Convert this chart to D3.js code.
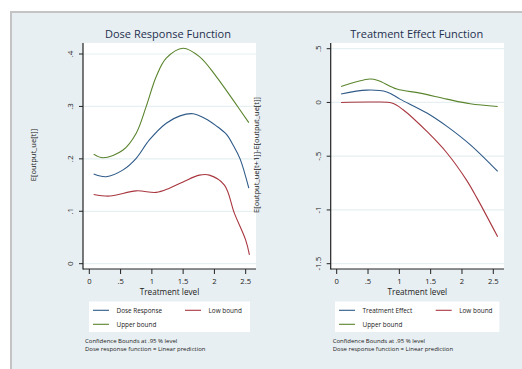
<!DOCTYPE html>
<html>
<head>
<meta charset="utf-8">
<script src="https://cdn.jsdelivr.net/npm/d3@7"></script>
<style>
body { margin: 0; background: #fff; }
text { font-family: "Open Sans", "DejaVu Sans", sans-serif; }
</style>
</head>
<body>
<script>
var width = 522, height = 369;

// treatment levels (x) for each panel
var doseX   = [0.07, 0.27, 0.54, 0.75, 0.96, 1.23, 1.45, 1.66, 1.85, 2.03, 2.19, 2.30, 2.41, 2.55];
var doseResp = [0.171, 0.166, 0.179, 0.201, 0.236, 0.268, 0.282, 0.286, 0.277, 0.263, 0.247, 0.226, 0.200, 0.144];
var doseUpX = [0.07, 0.22, 0.54, 0.75, 0.91, 1.07, 1.23, 1.50, 1.76, 2.03, 2.30, 2.55];
var doseUp  = [0.209, 0.202, 0.217, 0.249, 0.300, 0.357, 0.392, 0.411, 0.395, 0.357, 0.312, 0.269];
var doseLoX = [0.07, 0.33, 0.75, 1.07, 1.28, 1.50, 1.76, 1.92, 2.16, 2.32, 2.50, 2.56];
var doseLo  = [0.132, 0.129, 0.139, 0.136, 0.144, 0.156, 0.169, 0.169, 0.150, 0.096, 0.045, 0.017];

var effX   = [0.07, 0.48, 0.80, 1.01, 1.44, 1.76, 2.13, 2.57];
var effect = [0.078, 0.115, 0.098, 0.031, -0.099, -0.223, -0.393, -0.642];
var effUpX = [0.07, 0.53, 0.66, 0.96, 1.33, 1.76, 2.13, 2.57];
var effUp  = [0.149, 0.218, 0.205, 0.125, 0.087, 0.031, -0.012, -0.037];
var effLoX = [0.07, 0.59, 0.88, 1.06, 1.44, 1.76, 2.07, 2.24, 2.57];
var effLo  = [0.000, 0.004, -0.006, -0.068, -0.27, -0.47, -0.72, -0.89, -1.25];

var xTicks = [0, 0.5, 1, 1.5, 2, 2.5];
var xTickLabels = ["0", ".5", "1", "1.5", "2", "2.5"];
var doseYTicks = [0, 0.1, 0.2, 0.3, 0.4];
var doseYLabels = ["0", ".1", ".2", ".3", ".4"];
var effYTicks = [-1.5, -1, -0.5, 0, 0.5];
var effYLabels = ["-1.5", "-1", "-.5", "0", ".5"];

var colBlue = "#2f5a88", colRed = "#a8363f", colGreen = "#5a842c";

var svg = d3.select("body").append("svg")
  .attr("width", width)
  .attr("height", height);

// graph region
svg.append("rect").attr("x", 11).attr("y", 12).attr("width", width).attr("height", height)
  .attr("fill", "#e8eff2").attr("stroke", "#c4c4c4").attr("stroke-width", 2);

function zip(xs, ys) { return xs.map(function(v, i) { return [v, ys[i]]; }); }

function drawPanel(p) {
  var g = svg.append("g");
  var x = d3.scaleLinear().domain([0, 2.5]).range(p.xRange);
  var y = d3.scaleLinear().domain(p.yDomain).range(p.yRange);

  g.append("rect").attr("x", p.left).attr("y", 43)
    .attr("width", p.right - p.left).attr("height", 269 - 43).attr("fill", "#fff");

  // gridlines
  g.selectAll(".grid").data(p.yTicks).enter().append("line")
    .attr("x1", p.left).attr("x2", p.right)
    .attr("y1", function(d) { return y(d); }).attr("y2", function(d) { return y(d); })
    .attr("stroke", "#e6eff1").attr("stroke-width", 1.2);

  var line = d3.line().x(function(d) { return x(d[0]); }).y(function(d) { return y(d[1]); })
    .curve(d3.curveCatmullRom.alpha(0.5));
  p.series.forEach(function(s) {
    g.append("path").attr("d", line(s.data)).attr("fill", "none")
      .attr("stroke", s.color).attr("stroke-width", 1.1);
  });

  // y axis
  g.append("line").attr("x1", p.left).attr("x2", p.left).attr("y1", 43).attr("y2", 269.5)
    .attr("stroke", "#222").attr("stroke-width", 1.2);
  g.selectAll(".yt").data(p.yTicks).enter().append("line")
    .attr("x1", p.left - 4).attr("x2", p.left)
    .attr("y1", function(d) { return y(d); }).attr("y2", function(d) { return y(d); })
    .attr("stroke", "#222");
  g.selectAll(".yl").data(p.yTicks).enter().append("text")
    .attr("transform", function(d) { return "translate(" + (p.left - 10) + "," + y(d) + ") rotate(-90)"; })
    .attr("text-anchor", "middle").attr("font-size", 8).attr("fill", "#222")
    .text(function(d, i) { return p.yLabels[i]; });

  // x axis
  g.append("line").attr("x1", p.left).attr("x2", p.right).attr("y1", 269).attr("y2", 269)
    .attr("stroke", "#222").attr("stroke-width", 1.2);
  g.selectAll(".xt").data(xTicks).enter().append("line")
    .attr("x1", function(d) { return x(d); }).attr("x2", function(d) { return x(d); })
    .attr("y1", 269).attr("y2", 274).attr("stroke", "#222");
  g.selectAll(".xl").data(xTicks).enter().append("text")
    .attr("x", function(d) { return x(d); }).attr("y", 283.5)
    .attr("text-anchor", "middle").attr("font-size", 7.6).attr("fill", "#222")
    .text(function(d, i) { return xTickLabels[i]; });
  g.append("text").attr("x", (p.left + p.right) / 2).attr("y", 294.5)
    .attr("text-anchor", "middle").attr("font-size", 8.2).attr("fill", "#222")
    .text("Treatment level");

  g.append("text").attr("x", p.titleX).attr("y", 38)
    .attr("text-anchor", "middle").attr("font-size", 11).attr("fill", "#1e2f4f")
    .text(p.title);

  g.append("text")
    .attr("transform", "translate(" + p.yTitleX + ",155) rotate(-90)")
    .attr("text-anchor", "middle").attr("font-size", 7.5).attr("fill", "#222")
    .text(p.yTitle);

  // legend
  var lx = p.legend[0], lw = p.legend[1];
  g.append("rect").attr("x", lx).attr("y", 301.5).attr("width", lw).attr("height", 30.5).attr("fill", "#fff");
  var items = [
    { name: p.series[0].name, color: p.series[0].color, x: lx + 4, y: 310.3 },
    { name: p.series[1].name, color: p.series[1].color, x: lx + p.legCol2, y: 310.3 },
    { name: p.series[2].name, color: p.series[2].color, x: lx + 4, y: 324.3 }
  ];
  items.forEach(function(it) {
    g.append("line").attr("x1", it.x).attr("x2", it.x + 16).attr("y1", it.y).attr("y2", it.y)
      .attr("stroke", it.color).attr("stroke-width", 1.1);
    g.append("text").attr("x", it.x + 23.5).attr("y", it.y + 2.3)
      .attr("font-size", 6.4).attr("fill", "#222").text(it.name);
  });

  g.append("text").attr("x", p.left + 2).attr("y", 343).attr("font-size", 6).attr("fill", "#222")
    .text("Confidence Bounds at .95 % level");
  g.append("text").attr("x", p.left + 2).attr("y", 351).attr("font-size", 6).attr("fill", "#222")
    .text("Dose response function = Linear prediction");
}

drawPanel({
  left: 83, right: 256,
  xRange: [89.3, 245.7],
  yDomain: [0, 0.4], yRange: [263.7, 54],
  yTicks: doseYTicks, yLabels: doseYLabels,
  title: "Dose Response Function", titleX: 168,
  yTitle: "E[output_ue[t]]", yTitleX: 36,
  legend: [89, 161], legCol2: 96,
  series: [
    { name: "Dose Response", color: colBlue, data: zip(doseX, doseResp) },
    { name: "Low bound", color: colRed, data: zip(doseLoX, doseLo) },
    { name: "Upper bound", color: colGreen, data: zip(doseUpX, doseUp) }
  ]
});

drawPanel({
  left: 330.7, right: 504,
  xRange: [336.7, 493.3],
  yDomain: [-1.5, 0.5], yRange: [263.7, 48.7],
  yTicks: effYTicks, yLabels: effYLabels,
  title: "Treatment Effect Function", titleX: 416.7,
  yTitle: "E[output_ue[t+1]]-E[output_ue[t]]", yTitleX: 259,
  legend: [335, 164.3], legCol2: 100.7,
  series: [
    { name: "Treatment Effect", color: colBlue, data: zip(effX, effect) },
    { name: "Low bound", color: colRed, data: zip(effLoX, effLo) },
    { name: "Upper bound", color: colGreen, data: zip(effUpX, effUp) }
  ]
});
</script>
</body>
</html>
